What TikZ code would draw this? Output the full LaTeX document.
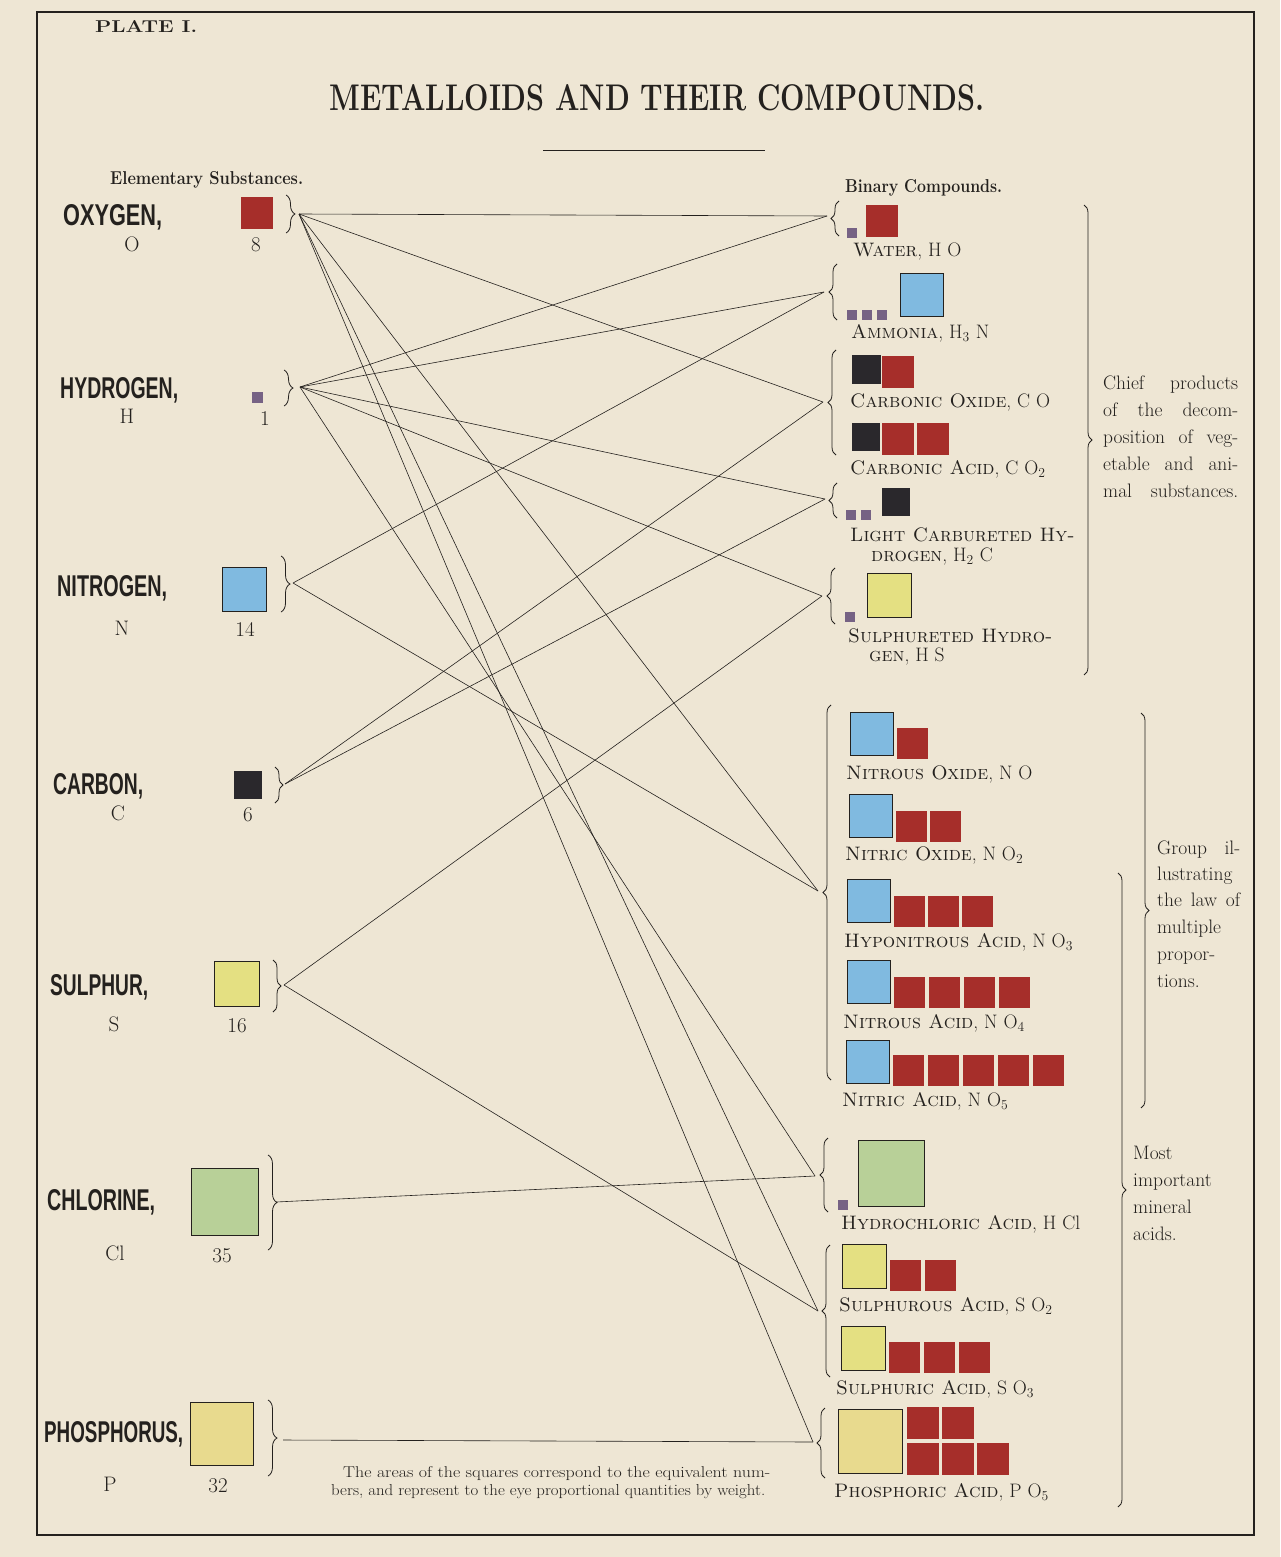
\documentclass[tikz,border=0pt]{standalone}
\usepackage{fontspec}
\usepackage{graphicx}
\newfontfamily\elfont{Liberation Sans}
\usetikzlibrary{decorations.pathreplacing}

\definecolor{paper}{RGB}{238,230,212}
\definecolor{inkc}{RGB}{36,33,30}
\definecolor{oxred}{RGB}{166,46,42}
\definecolor{hpurple}{RGB}{118,98,132}
\definecolor{nblue}{RGB}{128,186,224}
\definecolor{cblack}{RGB}{42,40,44}
\definecolor{syellow}{RGB}{228,224,130}
\definecolor{pyellow}{RGB}{232,218,142}
\definecolor{clgreen}{RGB}{184,208,152}

\newcommand{\fitto}[3]{\resizebox{#1}{#2}{#3}}

\tikzset{
  sq/.style={inner sep=0pt, outer sep=0pt, minimum size=#1, anchor=north west},
  oxy/.style={sq=#1, fill=oxred}, oxy/.default=32pt,
  hyd/.style={sq=#1, fill=hpurple}, hyd/.default=10pt,
  nit/.style={sq=#1, fill=nblue, draw=inkc, line width=0.8pt}, nit/.default=43pt,
  car/.style={sq=#1, fill=cblack}, car/.default=28pt,
  sul/.style={sq=#1, fill=syellow, draw=inkc, line width=0.8pt}, sul/.default=44pt,
  chl/.style={sq=#1, fill=clgreen, draw=inkc, line width=0.8pt}, chl/.default=66pt,
  pho/.style={sq=#1, fill=pyellow, draw=inkc, line width=0.8pt}, pho/.default=64pt,
  elname/.style={anchor=base west, inner sep=0pt, text=inkc, font=\elfont\bfseries\fontsize{28}{30}\selectfont},
  num/.style={anchor=base, inner sep=0pt, text=inkc, font=\fontsize{21}{24}\selectfont},
  cpd/.style={anchor=base west, inner sep=0pt, text=inkc, font=\fontsize{19.5}{22}\selectfont},
  note/.style={anchor=base west, inner sep=0pt, text=inkc, font=\fontsize{19.5}{24}\selectfont},
  head/.style={anchor=base west, inner sep=0pt, text=inkc, font=\bfseries\fontsize{16}{18}\selectfont},
  brc/.style={decorate, decoration={brace, amplitude=#1}, draw=inkc, line width=0.8pt}, brc/.default=8pt,
  link/.style={draw=inkc, line width=0.6pt},
  frame/.style={draw=inkc, line width=1.4pt}
}

\begin{document}
\begin{tikzpicture}[x=1pt, y=-1pt]
  \fill[paper] (0,0) rectangle (1280,1557);
  \useasboundingbox (0,0) rectangle (1280,1557);
  \draw[frame] (37,12) rectangle (1254,1535);

  % headings
  \node[anchor=base west, inner sep=0pt, text=inkc, font=\bfseries\fontsize{18}{20}\selectfont] (plate) at (95,33) {\fitto{102pt}{12pt}{PLATE I.}};
  \node[anchor=base, inner sep=0pt, text=inkc, font=\bfseries\fontsize{32}{36}\selectfont] (title) at (657,111) {\fitto{655pt}{26pt}{METALLOIDS AND THEIR COMPOUNDS.}};
  \draw[inkc, line width=0.8pt] (543,150) -- (765,150);
  \node[head] (elem-head) at (110,185) {\fitto{193pt}{13pt}{Elementary Substances.}};
  \node[head] (bin-head) at (845,193) {\fitto{157pt}{13pt}{Binary Compounds.}};

  % elementary substances
  \node[elname] (oxygen) at (63,225) {\fitto{99pt}{21pt}{OXYGEN,}};
  \node[num] (O-sym) at (132,251) {O};
  \node[num] (O-wt) at (256,251) {8};
  \node[oxy] (O-sq) at (241,197) {};
  \draw[brc=9pt] (286,195) -- (286,233);

  \node[elname] (hydrogen) at (60,398) {\fitto{118pt}{21pt}{HYDROGEN,}};
  \node[num] (H-sym) at (127,423) {H};
  \node[num] (H-wt) at (265,425) {1};
  \node[hyd=11pt] (H-sq) at (252,392) {};
  \draw[brc=9pt] (284,370) -- (284,406);

  \node[elname] (nitrogen) at (57,596) {\fitto{110pt}{21pt}{NITROGEN,}};
  \node[num] (N-sym) at (122,635) {N};
  \node[num] (N-wt) at (245,636) {14};
  \node[nit=44pt] (N-sq) at (222,567) {};
  \draw[brc=9pt] (281,556) -- (281,612);

  \node[elname] (carbon) at (53,794) {\fitto{90pt}{21pt}{CARBON,}};
  \node[num] (C-sym) at (118,820) {C};
  \node[num] (C-wt) at (248,821) {6};
  \node[car] (C-sq) at (234,771) {};
  \draw[brc=8pt] (275,767) -- (275,803);

  \node[elname] (sulphur) at (50,995) {\fitto{98pt}{21pt}{SULPHUR,}};
  \node[num] (S-sym) at (114,1031) {S};
  \node[num] (S-wt) at (237,1032) {16};
  \node[sul=45pt] (S-sq) at (214,961) {};
  \draw[brc=8pt] (273,960) -- (273,1012);

  \node[elname] (chlorine) at (47,1210) {\fitto{108pt}{21pt}{CHLORINE,}};
  \node[num] (Cl-sym) at (115,1260) {Cl};
  \node[num] (Cl-wt) at (222,1262) {35};
  \node[chl=67pt] (Cl-sq) at (191,1168) {};
  \draw[brc=9pt] (268,1155) -- (268,1250);

  \node[elname] (phosphorus) at (44,1442) {\fitto{139pt}{21pt}{PHOSPHORUS,}};
  \node[num] (P-sym) at (110,1491) {P};
  \node[num] (P-wt) at (218,1492) {32};
  \node[pho=63pt] (P-sq) at (190,1402) {};
  \draw[brc=9pt] (268,1400) -- (268,1476);

  % binary compounds
  \node[hyd] (water-h) at (847,228) {};
  \node[oxy] (water-o) at (866,205) {};
  \node[cpd] (water) at (853,256) {\textsc{Water}, H O};
  \draw[brc] (839,236) -- (839,201);

  \foreach \i in {0,1,2} \node[hyd] (amm-h\i) at ({847+15*\i},310) {};
  \node[nit] (amm-n) at (900,273) {};
  \node[cpd] (ammonia) at (851,338) {\textsc{Ammonia}, H\textsubscript{3} N};
  \draw[brc] (837,320) -- (837,264);

  \node[car=29pt] (co-c) at (852,355) {};
  \node[oxy] (co-o) at (882,356) {};
  \node[cpd] (co) at (850,407) {\textsc{Carbonic Oxide}, C O};
  \node[car] (co2-c) at (852,423) {};
  \foreach \i in {0,1} \node[oxy] (co2-o\i) at ({882+35*\i},423) {};
  \node[cpd] (co2) at (850,474) {\textsc{Carbonic Acid}, C O\textsubscript{2}};
  \draw[brc] (836,455) -- (836,350);

  \foreach \i in {0,1} \node[hyd] (ch-h\i) at ({846+15*\i},510) {};
  \node[car] (ch-c) at (882,488) {};
  \node[cpd] (ch) at (850,541) {\textsc{Light Carbureted Hy-}};
  \node[cpd] (ch-2) at (871,561) {\textsc{drogen}, H\textsubscript{2} C};
  \draw[brc] (837,518) -- (837,483);

  \node[hyd] (hs-h) at (845,612) {};
  \node[sul] (hs-s) at (867,573) {};
  \node[cpd] (hs) at (848,642) {\textsc{Sulphureted Hydro-}};
  \node[cpd] (hs-2) at (869,661) {\textsc{gen}, H S};
  \draw[brc] (835,624) -- (835,568);

  \draw[brc=8pt] (1084,205) -- (1084,675);
  \foreach \t [count=\i from 0] in {Chief products,of the decom-,position of veg-,etable and ani-,mal substances.}
    \node[note] (chief-\i) at (1103,{389+27*\i}) {\makebox[135pt][s]{\t}};

  % nitrogen and oxygen
  \node[nit] (no1-n) at (850,712) {};
  \node[oxy=31pt] (no1-o0) at (897,728) {};
  \node[cpd] (no1) at (846,779) {\textsc{Nitrous Oxide}, N O};
  \node[nit] (no2-n) at (849,794) {};
  \foreach \i in {0,1} \node[oxy=31pt] (no2-o\i) at ({896+34*\i},811) {};
  \node[cpd] (no2) at (845,860) {\textsc{Nitric Oxide}, N O\textsubscript{2}};
  \node[nit] (no3-n) at (847,879) {};
  \foreach \i in {0,1,2} \node[oxy=31pt] (no3-o\i) at ({894+34*\i},896) {};
  \node[cpd] (no3) at (844,947) {\textsc{Hyponitrous Acid}, N O\textsubscript{3}};
  \node[nit] (no4-n) at (847,960) {};
  \foreach \i in {0,...,3} \node[oxy=31pt] (no4-o\i) at ({894+35*\i},977) {};
  \node[cpd] (no4) at (843,1028) {\textsc{Nitrous Acid}, N O\textsubscript{4}};
  \node[nit] (no5-n) at (846,1040) {};
  \foreach \i in {0,...,4} \node[oxy=31pt] (no5-o\i) at ({893+35*\i},1055) {};
  \node[cpd] (no5) at (842,1106) {\textsc{Nitric Acid}, N O\textsubscript{5}};
  \draw[brc] (831,1080) -- (831,705);

  \draw[brc=8pt] (1141,713) -- (1141,1108);
  \foreach \t [count=\i from 0] in {Group il-,lustrating,the law of}
    \node[note] (grp-\i) at (1157,{854+26*\i}) {\makebox[83pt][s]{\t}};
  \node[note] (grp-3) at (1157,933) {multiple};
  \node[note] (grp-4) at (1157,960) {propor-};
  \node[note] (grp-5) at (1157,987) {tions.};

  % mineral acids
  \node[hyd] (hcl-h) at (838,1200) {};
  \node[chl] (hcl-cl) at (858,1140) {};
  \node[cpd] (hcl) at (841,1229) {\textsc{Hydrochloric Acid}, H Cl};
  \draw[brc] (828,1212) -- (828,1138);

  \node[sul] (so2-s) at (842,1244) {};
  \foreach \i in {0,1} \node[oxy=31pt] (so2-o\i) at ({890+35*\i},1260) {};
  \node[cpd] (so2) at (839,1311) {\textsc{Sulphurous Acid}, S O\textsubscript{2}};
  \node[sul] (so3-s) at (841,1326) {};
  \foreach \i in {0,1,2} \node[oxy=31pt] (so3-o\i) at ({889+35*\i},1342) {};
  \node[cpd] (so3) at (836,1394) {\textsc{Sulphuric Acid}, S O\textsubscript{3}};
  \draw[brc] (830,1377) -- (830,1245);

  \node[pho] (po5-p) at (838,1409) {};
  \foreach \i in {0,1} \node[oxy] (po5-a\i) at ({907+35*\i},1407) {};
  \foreach \i in {0,1,2} \node[oxy] (po5-b\i) at ({907+35*\i},1443) {};
  \node[cpd] (po5) at (834,1497) {\textsc{Phosphoric Acid}, P O\textsubscript{5}};
  \draw[brc] (825,1478) -- (825,1408);

  \draw[brc=8pt] (1118,873) -- (1118,1507);
  \foreach \t [count=\i from 0] in {Most,important,mineral,acids.}
    \node[note] (most-\i) at (1133,{1159+27.3*\i}) {\t};

  % footnote
  \node[anchor=base west, inner sep=0pt, text=inkc, font=\fontsize{16}{18}\selectfont] (foot-1) at (343,1477)
    {\fitto{427pt}{11pt}{The areas of the squares correspond to the equivalent num-}};
  \node[anchor=base west, inner sep=0pt, text=inkc, font=\fontsize{16}{18}\selectfont] (foot-2) at (331,1495)
    {\fitto{434pt}{11pt}{bers, and represent to the eye proportional quantities by weight.}};

  % connector ends
  \coordinate (O-end) at (299,214);
  \coordinate (H-end) at (300,387);
  \coordinate (N-end) at (293,583);
  \coordinate (C-end) at (285,784);
  \coordinate (S-end) at (284,985);
  \coordinate (Cl-end) at (276,1202);
  \coordinate (P-end) at (283,1440);
  \coordinate (water-end) at (827,216);
  \coordinate (amm-end) at (824,292);
  \coordinate (carb-end) at (823,402);
  \coordinate (ch-end) at (825,499);
  \coordinate (hs-end) at (822,596);
  \coordinate (nox-end) at (818,891);
  \coordinate (hcl-end) at (815,1176);
  \coordinate (sox-end) at (818,1311);
  \coordinate (po5-end) at (813,1442);

  \foreach \a/\b in {O/water, O/carb, O/nox, O/sox, O/po5,
                     H/water, H/amm, H/ch, H/hs, H/hcl,
                     N/amm, N/nox, C/carb, C/ch, S/hs, S/sox, Cl/hcl, P/po5}
    \draw[link] (\a-end) -- (\b-end);
\end{tikzpicture}
\end{document}
